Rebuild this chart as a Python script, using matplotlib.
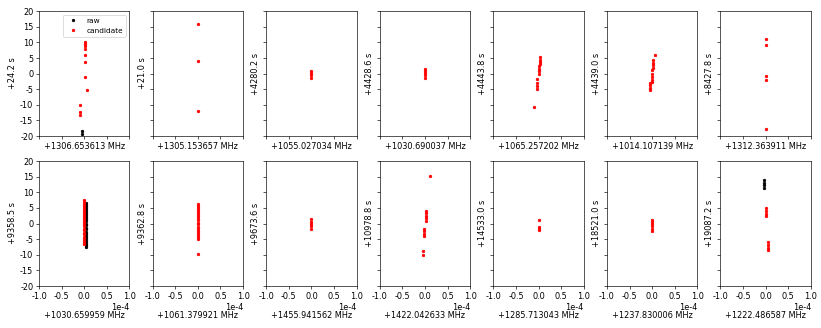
import numpy as np
import matplotlib.pyplot as plt

plt.rcParams['axes.unicode_minus'] = False

# per-panel offsets (time in s, frequency in MHz)
t_offsets = ["+24.2 s", "+21.0 s", "+4280.2 s", "+4428.6 s", "+4443.8 s", "+4439.0 s", "+8427.8 s",
             "+9358.5 s", "+9362.8 s", "+9673.6 s", "+10978.8 s", "+14533.0 s", "+18521.0 s", "+19087.2 s"]
f_offsets = ["+1306.653613 MHz", "+1305.153657 MHz", "+1055.027034 MHz", "+1030.690037 MHz",
             "+1065.257202 MHz", "+1014.107139 MHz", "+1312.363911 MHz",
             "+1030.659959 MHz", "+1061.379921 MHz", "+1455.941562 MHz", "+1422.042633 MHz",
             "+1285.713043 MHz", "+1237.830006 MHz", "+1222.486587 MHz"]

# raw detections: frequency offset (1e-4 MHz) and time offset (s)
raw_f = [[-0.05, -0.05], [], [], [], [], [], [],
         [0.04] * 23, [], [], [], [], [], [-0.04] * 4]
raw_t = [[-18.3, -19.2], [], [], [], [], [], [],
         [6.5, 5.9, 5.2, 4.6, 3.9, 3.3, 2.6, 2.0, 1.3, 0.7, 0.0, -0.6, -1.3, -1.9, -2.6, -3.2,
          -3.9, -4.5, -5.2, -5.8, -6.5, -7.0, -7.6],
         [], [], [], [], [], [13.9, 13.1, 12.3, 11.4]]

# candidate detections
cand_f = [
    [0.02, 0.02, 0.02, 0.02, 0.02, 0.02, 0.02, 0.06, -0.09, -0.09, -0.09],
    [0.0, 0.0, 0.0],
    [0.0, 0.0, 0.0, 0.0],
    [0.0, 0.0, 0.0, 0.0, 0.0],
    [-0.11, -0.04, -0.04, -0.04, -0.04, 0.0, 0.0, 0.0, 0.0, 0.04, 0.04, 0.04, 0.04],
    [0.07, 0.03, 0.03, 0.03, 0.03, -0.01, -0.01, -0.01, -0.01, -0.01, -0.05, -0.05, -0.05, -0.05],
    [0.0, 0.0, 0.0, 0.0, 0.0],
    [0.0] * 23,
    [0.0] * 19,
    [0.0] * 5,
    [0.1, 0.02, 0.02, 0.02, 0.02, 0.02, -0.02, -0.02, -0.02, -0.02, -0.05, -0.05],
    [0.0, 0.0, 0.0, 0.0],
    [0.0] * 6,
    [0.0, 0.0, 0.0, 0.0, 0.04, 0.04, 0.04, 0.04],
]
cand_t = [
    [10.0, 9.4, 8.7, 7.8, 5.8, 3.8, -1.2, -5.2, -10.2, -12.2, -13.3],
    [16.0, 4.0, -12.1],
    [0.9, 0.2, -0.6, -1.3],
    [1.4, 0.8, 0.1, -0.6, -1.3],
    [-10.8, -1.8, -2.9, -3.9, -5.0, 2.3, 1.5, 0.8, 0.0, 5.3, 4.5, 3.8, 3.1],
    [6.0, 4.2, 3.4, 2.6, 1.8, 1.0, 0.0, -1.0, -1.9, -2.8, -2.9, -3.7, -4.5, -5.2],
    [11.2, 9.2, -0.7, -2.0, -17.8],
    [7.5, 6.9, 6.2, 5.6, 4.9, 4.3, 3.6, 3.0, 2.3, 1.7, 1.0, 0.4, -0.3, -0.9, -1.6, -2.2,
     -2.9, -3.5, -4.2, -4.8, -5.5, -6.1, -6.7],
    [6.3, 5.6, 5.0, 4.3, 3.6, 3.0, 2.3, 1.7, 1.0, 0.3, -0.3, -1.0, -1.6, -2.3, -3.0, -3.6,
     -4.3, -4.9, -9.8],
    [1.4, 0.6, -0.1, -0.9, -1.6],
    [15.1, 4.1, 3.3, 2.5, 1.7, 0.9, -1.7, -2.5, -3.3, -4.1, -8.8, -10.0],
    [1.0, -1.0, -1.6, -2.2],
    [1.2, 0.5, -0.2, -0.9, -1.7, -2.4],
    [5.0, 4.1, 3.2, 2.3, -6.0, -6.9, -7.8, -8.6],
]

fig, axes = plt.subplots(2, 7, sharex=True, sharey=True, figsize=(14, 5.587), dpi=58.71)
fig.subplots_adjust(left=0.0475, right=0.9866, top=0.966, bottom=0.128, wspace=0.256, hspace=0.2)

for i, ax in enumerate(axes.flat):
    ax.plot(np.array(raw_f[i]) * 1e-4, raw_t[i], '.', color='black', label='raw')
    ax.plot(np.array(cand_f[i]) * 1e-4, cand_t[i], '.', color='red', label='candidate')
    ax.set_xlim(-1e-4, 1e-4)
    ax.set_ylim(-20, 20)
    ax.set_xticks(np.linspace(-1e-4, 1e-4, 5))
    ax.set_yticks(np.arange(-20, 21, 5))
    ax.ticklabel_format(axis='x', style='sci', scilimits=(0, 0))
    ax.set_ylabel(t_offsets[i])
    # bottom row labels sit below the 1e-4 offset text
    ax.set_xlabel(f_offsets[i], labelpad=13 if i >= 7 else 4)

axes[0, 0].legend(loc='upper right', fontsize=9)

fig.savefig('out.png')
